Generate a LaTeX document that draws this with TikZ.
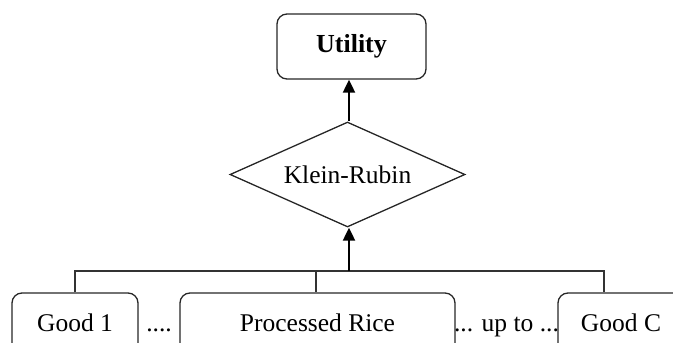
\documentclass[tikz,border=0pt]{standalone}
\usepackage{fontspec}
\setmainfont{Liberation Serif}
\usetikzlibrary{shapes.geometric,arrows.meta}
\begin{document}
\begin{tikzpicture}[x=1pt,y=-1pt,
  box/.style={draw=black!85,line width=1.3pt,rounded corners=10pt,inner sep=0pt,font=\fontsize{25.5}{28}\selectfont},
  goodbox/.style={box,minimum height=60pt},
  kr/.style={draw=black!85,line width=1.3pt,shape=diamond,aspect=2.24,inner sep=0pt,minimum width=235pt,minimum height=105pt,font=\fontsize{25.5}{28}\selectfont},
  link/.style={draw=black!80,line width=1.3pt},
  uparrow/.style={draw=black,line width=2pt,-{Triangle[length=13pt,width=12pt]}},
  lbl/.style={inner sep=0pt,anchor=base,font=\fontsize{25.5}{28}\selectfont}]
\useasboundingbox (0,0) rectangle (673,343);
\clip (0,0) rectangle (673,343);
\node[box,minimum width=149pt,minimum height=65pt,font=\fontsize{26}{28}\selectfont\bfseries] (util) at (351.5,46.5) {Utility};
\node[kr] (klein) at (347.5,174.5) {Klein-Rubin};
\node[goodbox,minimum width=126pt] (g1) at (75,323) {Good 1};
\node[goodbox,minimum width=275pt] (rice) at (317.5,323) {Processed Rice};
\node[goodbox,minimum width=126pt] (gc) at (621,323) {Good C};
\node[lbl] (dots1) at (159,331) {....};
\node[lbl] (upto) at (506.5,331) {... up to ...};
\coordinate (hl) at (75,271);
\coordinate (hm) at (316,271);
\coordinate (hr) at (604,271);
\coordinate (harrow) at (349,271);
\draw[link] (g1.north -| hl) -- (hl) -- (hr) -- (gc.north -| hr);
\draw[link] (hm) -- (rice.north -| hm);
\draw[uparrow] (harrow) -- (klein.south -| harrow);
\draw[uparrow] (klein.north -| harrow) -- (util.south -| harrow);
\end{tikzpicture}
\end{document}
